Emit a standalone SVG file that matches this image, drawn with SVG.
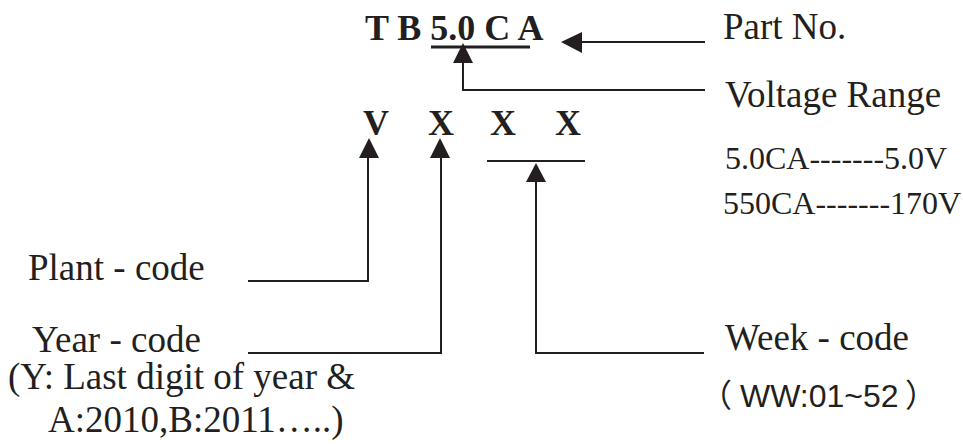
<svg xmlns="http://www.w3.org/2000/svg" width="963" height="444" viewBox="0 0 963 444">
<defs>
<style>
.t{font-family:"Liberation Serif","Times New Roman",serif;fill:#231f20}
.b{font-weight:bold;font-size:36px}
.r{font-size:37px}
.s{font-size:32px}
.ln{stroke:#231f20;stroke-width:2;fill:none}
.ah{fill:#231f20}
</style>
</defs>
<rect width="963" height="444" fill="#fff"/>
<g id="part-number">
<text class="t b" x="365" y="40">T B 5.0 C A</text>
<line x1="431" y1="47" x2="530" y2="47" stroke="#231f20" stroke-width="3"/>
</g>
<g id="marking">
<text class="t b" x="363" y="135">V</text>
<text class="t b" x="428" y="135">X</text>
<text class="t b" x="490" y="135">X</text>
<text class="t b" x="555" y="135">X</text>
</g>
<g id="label-part-no"><text class="t r" x="723" y="39">Part No.</text></g>
<g id="label-voltage">
<text class="t r" x="725" y="107">Voltage Range</text>
<text class="t s" x="725" y="169">5.0CA-------5.0V</text>
<text class="t s" x="723" y="214">550CA-------170V</text>
</g>
<g id="label-plant"><text class="t r" x="28" y="280">Plant - code</text></g>
<g id="label-year">
<text class="t r" x="32" y="352">Year - code</text>
<text class="t r" x="8" y="389">(Y: Last digit of year &amp;</text>
<text class="t r" x="48" y="432">A:2010,B:2011…..)</text>
</g>
<g id="label-week">
<text class="t r" x="725" y="350">Week - code</text>
<text font-family="'Liberation Sans','Noto Sans CJK SC',sans-serif" font-size="32" fill="#231f20" y="407"><tspan x="700">（</tspan><tspan x="740">WW:01~52</tspan><tspan x="905">）</tspan></text>
</g>
<g id="connectors">
<polyline class="ln" points="705,42 580,42"/>
<polygon class="ah" points="561,42 582,32 582,53"/>
<polyline class="ln" points="705,90 463,90 463,62"/>
<polygon class="ah" points="463,43 453,63 473,63"/>
<polyline class="ln" points="248,281 368,281 368,157"/>
<polygon class="ah" points="369,138 359,158 379,158"/>
<polyline class="ln" points="248,353 441,353 441,157"/>
<polygon class="ah" points="440,138 430,158 450,158"/>
<line class="ln" x1="487" y1="161" x2="585" y2="161"/>
<polyline class="ln" points="704,353 536,353 536,181"/>
<polygon class="ah" points="536,163 526,182 546,182"/>
</g>
</svg>
